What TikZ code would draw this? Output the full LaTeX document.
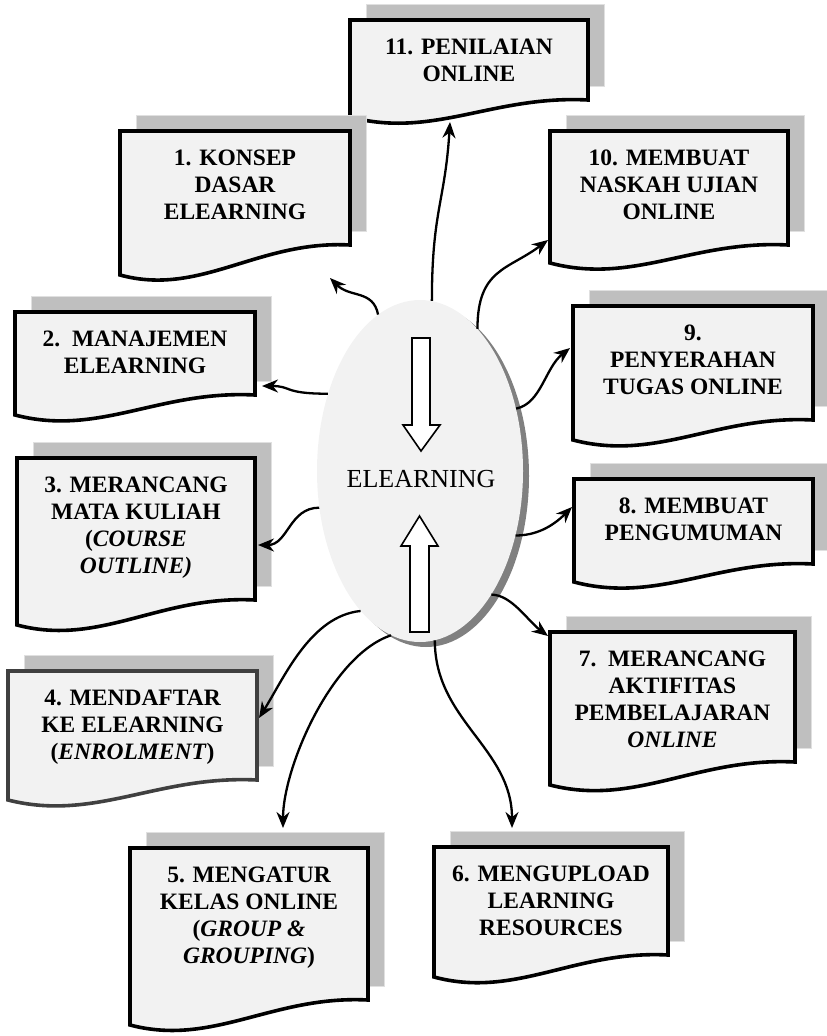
\documentclass[tikz,border=0pt]{standalone}
\usepackage{fontspec}
\setmainfont{Liberation Serif}
\usetikzlibrary{arrows.meta,shapes.geometric}

\tikzset{
  boxshadow/.style={fill=black!25, draw=black!12, line width=0.8pt},
  docshape/.style={fill=black!5, draw=black, line width=3.6pt, line join=miter},
  boxtext/.style={anchor=north, inner sep=0pt, align=center, font=\fontsize{23.5}{27}\selectfont\bfseries},
  conn/.style={line width=2.3pt, -{Stealth[length=16pt,width=13pt]}},
  blockarrow/.style={fill=white, draw=black, line width=1.6pt, line join=miter},
}

% #1 extra style, #2 name, #3 left, #4 top, #5 right, #6 bottom left, #7 bottom right, #8 text
\newcommand{\docbox}[8][]{%
  \draw[boxshadow] (#3+16,#4-16) rectangle (#5+16,#7-14);
  \draw[docshape,#1] (#3,#4) -- (#5,#4) -- (#5,#7)
    .. controls ({#3+0.6*(#5-#3)},#7-5) and ({#3+0.35*(#5-#3)},#6+22) .. (#3,#6) -- cycle;
  \node[boxtext] (#2) at ({(#3+#5)/2},#4+19) {#8};
}

\begin{document}
\begin{tikzpicture}[x=1pt,y=-1pt]
  \useasboundingbox (0,0) rectangle (827,1036);

  %%% boxes
  \docbox{penilaian}{350}{20}{588}{117}{100}{11. PENILAIAN\\ONLINE}
  \docbox{konsep}{120}{131}{350}{275}{245}{1. KONSEP\\DASAR\\ELEARNING}
  \docbox{naskah}{550}{131}{788}{263}{245}{10. MEMBUAT\\NASKAH UJIAN\\ONLINE}
  \docbox{manajemen}{15}{312}{255}{415}{395}{2.\ \ MANAJEMEN\\ELEARNING}
  \docbox{penyerahan}{573}{306}{813}{440}{420}{9.\\PENYERAHAN\\TUGAS ONLINE}
  \docbox{merancang}{17}{458}{255}{625}{600}{3. MERANCANG\\MATA KULIAH\\(\textit{COURSE}\\\textit{OUTLINE)}}
  \docbox{pengumuman}{574}{479}{813}{582}{564}{8. MEMBUAT\\PENGUMUMAN}
  \docbox[draw=black!75]{mendaftar}{8}{671}{257}{800}{780}{4. MENDAFTAR\\KE ELEARNING\\(\textit{ENROLMENT})}
  \docbox{aktifitas}{550}{632}{795}{785}{762}{7.\ \ MERANCANG\\AKTIFITAS\\PEMBELAJARAN\\\textit{ONLINE}}
  \docbox{mengupload}{434}{847}{668}{977}{955}{6. MENGUPLOAD\\LEARNING\\RESOURCES}
  \docbox{mengatur}{130}{848}{368}{1025}{1000}{5. MENGATUR\\KELAS ONLINE\\(\textit{GROUP \&}\\\textit{GROUPING})}

  %%% centre
  \fill[black!50] (426,476) ellipse (103 and 171);
  \node[ellipse, fill=black!5, minimum width=206pt, minimum height=342pt, inner sep=0pt] (el) at (420,471) {};
  \node[font=\fontsize{26}{30}\selectfont] (title) at (421,479) {ELEARNING};
  \draw[blockarrow] (412,338) -- (430,338) -- (430,425) -- (440,425) -- (421,451) -- (403,425) -- (412,425) -- cycle;
  \draw[blockarrow] (410,632) -- (429,632) -- (429,546) -- (438,546) -- (419.5,516) -- (401,546) -- (410,546) -- cycle;

  %%% arrow ends
  \coordinate (tpenilaian) at (450,122);
  \coordinate (tkonsep) at (330,278);
  \coordinate (tnaskah) at (548,240);
  \coordinate (tmanajemen) at (262,386);
  \coordinate (tpenyerahan) at (570,348);
  \coordinate (tmerancang) at (258,545);
  \coordinate (tpengumuman) at (572,507);
  \coordinate (tmendaftar) at (259,718);
  \coordinate (taktifitas) at (548,636);
  \coordinate (tmengupload) at (512,828);
  \coordinate (tmengatur) at (283,828);

  %%% connectors
  \draw[conn] (el.86) .. controls +(0,-90) and +(-5,80) .. (tpenilaian);
  \draw[conn] (el.105) .. controls +(-5,-25) and +(20,20) .. (tkonsep);
  \draw[conn] (el.68) .. controls +(0,-60) and +(-40,30) .. (tnaskah);
  \draw[conn] (el.140) .. controls +(-45,0) and +(30,0) .. (tmanajemen);
  \draw[conn] (el.33) .. controls +(25,-5) and +(-25,20) .. (tpenyerahan);
  \draw[conn] (el.200) .. controls +(-30,0) and +(30,0) .. (tmerancang);
  \draw[conn] (el.326) .. controls +(20,0) and +(-20,20) .. (tpengumuman);
  \draw[conn] (el.247) .. controls +(-50,5) and +(25,-40) .. (tmendaftar);
  \draw[conn] (el.300) .. controls +(20,0) and +(-20,-15) .. (taktifitas);
  \draw[conn] (el.275) .. controls +(0,80) and +(0,-80) .. (tmengupload);
  \draw[conn] (el.260) .. controls +(-60,20) and +(0,-60) .. (tmengatur);
\end{tikzpicture}
\end{document}
